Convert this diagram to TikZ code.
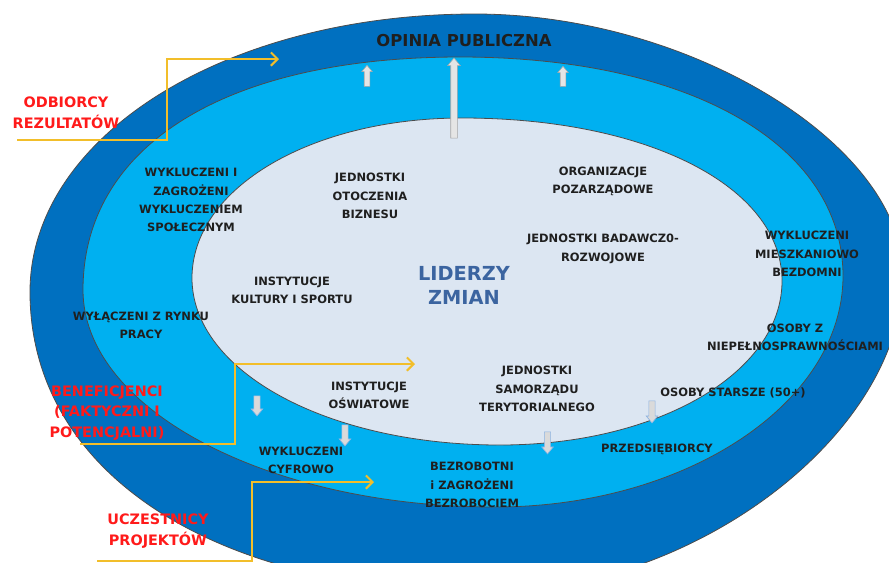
\documentclass[tikz,border=0pt]{standalone}
\usepackage{fontspec}
\setmainfont{DejaVu Sans}
\usetikzlibrary{arrows.meta,shapes.arrows}
\definecolor{outerblue}{HTML}{0070C0}
\definecolor{midblue}{HTML}{00B0F0}
\definecolor{innerfill}{HTML}{DCE6F2}
\definecolor{leadblue}{HTML}{3B64A0}
\definecolor{gold}{HTML}{F2BE2A}
\definecolor{redlab}{HTML}{FF1A1A}
\definecolor{arrowgray}{HTML}{DADADA}
\definecolor{arrowedge}{HTML}{8DB3E2}
\begin{document}
\begin{tikzpicture}[x=0.75pt,y=-0.75pt,
  ring/.style={draw=black!70,line width=0.6pt},
  lab/.style={font=\bfseries\fontsize{8.6}{13.7}\selectfont, text=black!88, align=center, inner sep=0pt},
  redl/.style={font=\bfseries\fontsize{10.8}{15.5}\selectfont, text=redlab, align=center, inner sep=0pt},
  yelline/.style={draw=gold, line width=1.5pt, -{Straight Barb[length=5pt,width=10pt,line width=1.5pt]}},
  uparr/.style={single arrow, draw=black!35, fill=arrowgray!70!white, line width=0.4pt, inner xsep=0pt, inner ysep=1.875pt, rotate=90, single arrow head extend=1.9pt, single arrow tip angle=80},
  downarr/.style={single arrow, draw=arrowedge, fill=arrowgray, line width=0.5pt, inner xsep=0pt, inner ysep=2.1pt, rotate=-90, single arrow head extend=2pt, single arrow tip angle=80}
]
\useasboundingbox (0,0) rectangle (889,562);
\clip (0,0) rectangle (889,562);
\fill[white] (0,0) rectangle (889,562);

% rings
\draw[ring, fill=outerblue] (30,292) .. controls (30,136.3) and (225.8,14) .. (475,14)
  .. controls (689,14) and (903,144.5) .. (903,275)
  .. controls (903,433.5) and (695,592) .. (487,592)
  .. controls (212.8,592) and (30,472) .. (30,292) -- cycle;
\draw[ring, fill=midblue] (83,290) .. controls (83,145.5) and (226.3,57) .. (460,57)
  .. controls (689.8,57) and (843,144.6) .. (843,276)
  .. controls (843,403) and (686.4,507) .. (495,507)
  .. controls (268.4,507) and (83,409.4) .. (83,290) -- cycle;
\draw[ring, fill=innerfill] (192,278) .. controls (192,188.4) and (310.8,118) .. (462,118)
  .. controls (647.6,118) and (782,186.5) .. (782,281)
  .. controls (782,372.8) and (657.9,445) .. (500,445)
  .. controls (327.5,445) and (192,371.5) .. (192,278) -- cycle;

% block arrows
\node[uparr, minimum height=15.75pt] (up1) at (367,77.5) {};
\node[uparr, minimum height=15pt] (up2) at (563,78) {};
\node[uparr, minimum height=60pt, inner ysep=2.25pt, single arrow head extend=2.25pt] (up3) at (454,100) {};
\node[downarr, minimum height=15pt] (dn1) at (257,404) {};
\node[downarr, minimum height=15.75pt] (dn2) at (345,433.5) {};
\node[downarr, minimum height=16.5pt] (dn3) at (547.5,441) {};
\node[downarr, minimum height=16.5pt] (dn4) at (652,410) {};

% title
\node[font=\bfseries\fontsize{12.3}{14}\selectfont, text=black!88, inner sep=0pt] (opinia) at (464,41) {OPINIA PUBLICZNA};

% centre
\node[font=\bfseries\fontsize{14.5}{18}\selectfont, text=leadblue, align=center, inner sep=0pt] (lider) at (464,285) {LIDERZY\\ZMIAN};

% labels
\node[lab] (wykSpol) at (191,200) {WYKLUCZENI I\\ZAGROŻENI\\WYKLUCZENIEM\\SPOŁECZNYM};
\node[lab] (jedOt) at (370,196) {JEDNOSTKI\\OTOCZENIA\\BIZNESU};
\node[lab] (orgPoz) at (603,181) {ORGANIZACJE\\POZARZĄDOWE};
\node[lab] (jedBad) at (603,249) {JEDNOSTKI BADAWCZ0-\\ROZWOJOWE};
\node[lab] (wykMiesz) at (807,254) {WYKLUCZENI\\MIESZKANIOWO\\BEZDOMNI};
\node[lab] (osobyZ) at (795,337) {OSOBY Z\\NIEPEŁNOSPRAWNOŚCIAMI};
\node[lab] (osobyStar) at (733,393) {OSOBY STARSZE (50+)};
\node[lab] (przed) at (657,449) {PRZEDSIĘBIORCY};
\node[lab] (jedSam) at (537,389) {JEDNOSTKI\\SAMORZĄDU\\TERYTORIALNEGO};
\node[lab] (bezrob) at (472,485) {BEZROBOTNI\\i ZAGROŻENI\\BEZROBOCIEM};
\node[lab] (wykCyf) at (301,460) {WYKLUCZENI\\CYFROWO};
\node[lab] (instOsw) at (369,395) {INSTYTUCJE\\OŚWIATOWE};
\node[lab] (instKult) at (292,290) {INSTYTUCJE\\KULTURY I SPORTU};
\node[lab] (wylacz) at (141,325) {WYŁĄCZENI Z RYNKU\\PRACY};

% red labels
\node[redl] (odb) at (66,113) {ODBIORCY\\REZULTATÓW};
\node[redl] (ben) at (107,413) {BENEFICJENCI\\(FAKTYCZNI I\\POTENCJALNI)};
\node[redl] (ucz) at (158,531) {UCZESTNICY\\PROJEKTÓW};

% yellow connectors
\coordinate (odbS) at (17,140);
\coordinate (odbK) at (167,59);
\coordinate (odbE) at (279,59);
\coordinate (benS) at (80,444);
\coordinate (benK) at (235,364);
\coordinate (benE) at (415,364);
\coordinate (uczS) at (97,561);
\coordinate (uczK) at (252,482);
\coordinate (uczE) at (374,482);
\draw[yelline] (odbS) -| (odbK) -- (odbE);
\draw[yelline] (benS) -| (benK) -- (benE);
\draw[yelline] (uczS) -| (uczK) -- (uczE);
\end{tikzpicture}
\end{document}
